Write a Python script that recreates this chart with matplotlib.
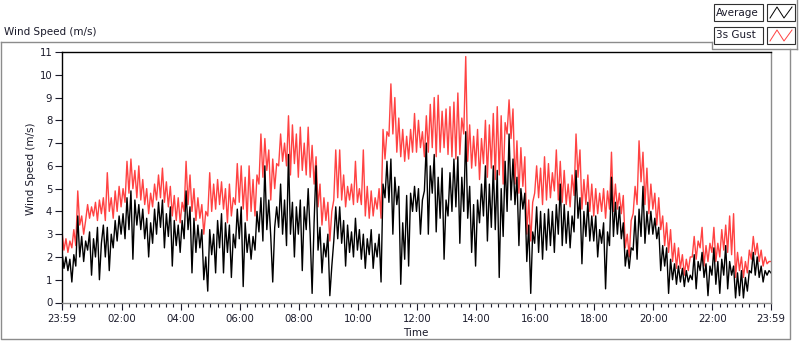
import numpy as np
import matplotlib.pyplot as plt
from matplotlib.lines import Line2D
from matplotlib.patches import Rectangle

# 3s gust and average wind speed (m/s), one reading every 4 minutes from 23:59
gust = [
    3.1, 2.3, 2.8, 2.2, 2.7, 2.4, 3.2, 2.5, 4.9, 3.4,
    3.8, 3.0, 3.6, 4.3, 3.7, 4.2, 3.8, 4.4, 3.6, 4.5,
    3.9, 4.6, 3.6, 5.7, 4.0, 4.6, 3.7, 4.9, 4.0, 5.1,
    4.2, 5.0, 4.4, 6.2, 4.8, 6.3, 5.0, 5.8, 4.6, 6.0,
    4.5, 5.4, 4.3, 5.0, 3.9, 4.8, 4.2, 5.2, 4.5, 5.6,
    4.6, 5.9, 4.4, 5.3, 4.2, 5.1, 3.8, 4.7, 3.6, 4.6,
    3.5, 4.4, 4.0, 6.2, 4.3, 5.6, 4.0, 5.0, 3.6, 4.6,
    3.7, 4.3, 3.0, 4.0, 3.8, 5.7, 4.0, 5.2, 4.1, 5.4,
    4.3, 5.3, 4.1, 5.0, 3.5, 5.2, 3.8, 4.6, 4.3, 6.1,
    4.4, 6.0, 4.1, 5.5, 3.6, 6.0, 4.0, 5.4, 3.8, 5.6,
    5.2, 7.4, 5.5, 7.2, 5.8, 6.7, 4.5, 6.3, 5.0, 6.1,
    6.0, 7.4, 6.2, 7.0, 6.0, 8.2, 5.6, 7.8, 6.1, 7.4,
    5.5, 7.7, 5.8, 7.0, 5.6, 7.7, 5.5, 6.9, 5.2, 6.4,
    4.2, 5.2, 3.4, 4.6, 3.6, 4.4, 2.7, 4.0, 4.5, 6.7,
    4.6, 6.7, 4.5, 5.6, 4.2, 5.1, 4.5, 5.2, 4.3, 6.2,
    4.4, 5.0, 4.3, 6.7, 3.8, 5.1, 3.7, 4.9, 3.8, 4.6,
    4.1, 5.0, 3.7, 7.6, 6.3, 7.5, 7.3, 9.6, 7.4, 9.0,
    6.6, 8.1, 6.4, 7.6, 6.2, 7.3, 6.3, 7.6, 6.6, 8.3,
    6.6, 8.0, 6.8, 7.5, 6.4, 8.2, 6.6, 8.7, 6.8, 9.0,
    6.4, 9.1, 6.6, 8.4, 6.8, 8.5, 6.5, 8.6, 6.4, 8.8,
    6.3, 9.2, 6.5, 8.1, 7.4, 10.8, 6.2, 7.8, 5.9, 7.3,
    6.0, 7.6, 5.4, 7.2, 6.1, 8.0, 5.5, 7.8, 5.9, 8.3,
    5.4, 8.6, 5.6, 8.2, 5.2, 7.9, 7.4, 8.9, 7.2, 8.5,
    5.2, 7.1, 4.8, 6.8, 5.1, 6.4, 3.0, 4.5, 2.7, 4.4,
    4.8, 6.0, 4.6, 5.9, 4.3, 6.4, 4.5, 6.1, 4.6, 5.7,
    4.9, 6.7, 4.5, 6.2, 4.4, 5.8, 4.3, 5.2, 4.2, 5.6,
    4.7, 7.4, 5.5, 6.7, 4.1, 5.4, 4.3, 5.6, 4.0, 5.2,
    3.8, 5.0, 3.9, 4.8, 4.0, 5.0, 3.7, 4.9, 4.1, 6.6,
    4.0, 5.2, 4.1, 4.8, 3.9, 4.7, 2.4, 3.0, 2.0, 3.6,
    3.9, 5.1, 4.3, 7.1, 5.3, 6.6, 4.3, 5.9, 3.9, 5.2,
    4.1, 4.8, 3.4, 4.6, 3.2, 3.8, 2.5, 3.5, 2.2, 3.2,
    1.8, 2.6, 1.5, 2.4, 1.5, 2.1, 1.2, 1.9, 1.4, 2.0,
    2.0, 2.9, 1.9, 2.7, 2.4, 3.3, 1.6, 2.5, 1.8, 2.6,
    2.2, 3.3, 1.8, 2.6, 2.0, 3.2, 2.3, 3.4, 2.2, 3.8,
    2.1, 3.9, 1.1, 2.2, 1.4, 2.0, 1.1, 1.8, 1.3, 2.3,
    1.9, 2.9, 2.1, 2.6, 1.8, 2.3, 1.6, 2.0, 1.7, 1.8,
    1.8,
]
average = [
    2.2, 1.5, 2.0, 1.4, 1.9, 0.9, 2.1, 1.6, 3.8, 2.0,
    2.9, 1.8, 2.7, 2.3, 3.1, 1.2, 2.8, 2.0, 3.3, 1.0,
    2.6, 3.4, 2.0, 3.3, 1.4, 3.0, 2.4, 3.6, 2.7, 3.8,
    3.0, 3.9, 2.8, 4.6, 3.2, 4.9, 1.9, 4.5, 3.4, 4.3,
    3.2, 4.1, 2.8, 3.7, 2.0, 3.5, 2.6, 4.1, 3.0, 4.4,
    3.3, 4.5, 2.4, 3.9, 2.9, 4.2, 1.6, 3.6, 2.5, 3.4,
    2.2, 3.6, 2.8, 4.9, 3.2, 4.2, 1.3, 3.7, 2.2, 3.4,
    2.4, 3.2, 1.0, 2.0, 0.5, 3.2, 2.1, 3.0, 1.3, 3.6,
    2.4, 3.9, 1.3, 3.5, 2.2, 3.4, 1.1, 3.0, 2.4, 4.1,
    2.8, 4.2, 0.7, 3.5, 2.2, 3.0, 1.9, 2.9, 2.3, 4.0,
    3.1, 4.6, 2.7, 6.0, 3.2, 4.5, 2.9, 0.9, 3.3, 4.2,
    3.3, 5.2, 3.0, 4.5, 2.5, 6.5, 3.0, 4.4, 2.0, 4.2,
    3.0, 4.5, 1.4, 4.2, 3.2, 5.0, 3.0, 0.4, 3.5, 6.0,
    2.3, 3.3, 1.3, 2.6, 2.0, 3.0, 0.3, 1.6, 2.7, 4.2,
    2.8, 4.2, 2.6, 3.6, 1.6, 3.4, 2.2, 3.1, 2.0, 3.7,
    2.3, 3.2, 1.9, 3.0, 1.5, 2.8, 2.1, 3.2, 1.5, 2.6,
    2.0, 3.0, 0.9, 5.2, 4.6, 6.2, 4.4, 6.3, 3.0, 5.5,
    4.3, 5.1, 0.8, 3.5, 1.9, 4.7, 1.6, 4.8, 4.0, 5.1,
    4.0, 5.0, 3.0, 4.5, 4.9, 7.0, 3.0, 6.0, 4.8, 6.5,
    3.1, 5.5, 3.7, 5.9, 1.9, 4.5, 3.8, 5.7, 4.0, 6.3,
    4.2, 6.4, 2.6, 5.5, 4.0, 7.5, 3.7, 5.1, 2.2, 4.3,
    1.6, 4.5, 3.5, 5.2, 3.8, 6.0, 2.7, 5.2, 3.3, 6.0,
    3.2, 5.8, 1.1, 5.0, 2.9, 6.2, 4.0, 7.4, 4.5, 6.3,
    4.3, 5.5, 2.5, 5.0, 4.1, 4.8, 1.8, 3.4, 0.4, 3.1,
    2.6, 4.2, 2.2, 4.0, 1.9, 3.9, 2.3, 4.1, 2.5, 4.0,
    2.2, 4.3, 3.0, 5.2, 2.5, 4.3, 2.6, 4.0, 2.4, 3.8,
    3.1, 5.8, 3.7, 4.6, 1.7, 4.0, 2.9, 4.4, 2.7, 3.8,
    2.7, 3.8, 2.0, 3.2, 2.6, 3.5, 0.6, 3.1, 2.5, 5.5,
    2.9, 4.4, 3.0, 4.2, 2.8, 3.5, 1.6, 2.3, 1.5, 2.4,
    2.3, 3.8, 1.9, 4.1, 2.9, 5.1, 2.6, 4.0, 3.0, 4.0,
    3.0, 3.7, 2.8, 3.3, 1.4, 2.5, 1.6, 2.4, 0.4, 1.9,
    1.0, 1.7, 0.8, 1.6, 0.9, 1.5, 0.7, 1.4, 0.9, 1.2,
    1.0, 2.1, 0.6, 1.8, 1.4, 2.2, 1.1, 1.7, 0.3, 1.6,
    1.2, 2.4, 0.8, 1.8, 0.4, 1.9, 1.2, 2.5, 0.6, 1.8,
    1.2, 1.6, 0.2, 1.3, 0.3, 1.4, 0.2, 1.1, 0.5, 1.4,
    1.3, 2.2, 1.2, 2.0, 1.1, 1.6, 0.9, 1.4, 1.2, 1.4,
    1.3,
]
sample_minutes = 4

tick_minutes = [0, 121, 241, 361, 481, 601, 721, 841, 961, 1081, 1201, 1321, 1440]
tick_labels = ['23:59', '02:00', '04:00', '06:00', '08:00', '10:00', '12:00',
               '14:00', '16:00', '18:00', '20:00', '22:00', '23:59']

W, H = 800, 342
TXT = '#1a1a2a'
GRAY = '#8c8c8c'

plt.rcParams['font.family'] = ['DejaVu Sans']


def fx(x):
    return x / W


def fy(y):
    return 1 - y / H


def fig_line(fig, xs, ys, color=GRAY, lw=1.0):
    fig.add_artist(Line2D([fx(v) for v in xs], [fy(v) for v in ys],
                          transform=fig.transFigure, color=color, lw=lw))


fig = plt.figure(figsize=(W / 100, H / 100), dpi=100)

ax = fig.add_axes([fx(62), fy(302.5), fx(771) - fx(62), fy(52) - fy(302.5)])
t = np.arange(len(gust)) * sample_minutes
ax.plot(t, gust, color='#ff4242', lw=1.0)
ax.plot(t, average, color='black', lw=1.0)

ax.set_xlim(0, 1440)
ax.set_ylim(0, 11)
ax.set_yticks(range(0, 12))
ax.set_xticks(tick_minutes)
ax.set_xticklabels(tick_labels)
ax.set_xticks(np.arange(1, 1440, 15), minor=True)
ax.tick_params(axis='both', which='major', labelsize=7.3, colors=TXT,
               length=5, width=0.8, pad=2)
ax.tick_params(axis='x', which='minor', length=3, width=0.8, color=TXT)
ax.tick_params(axis='x', which='major', pad=3)

ax.spines['left'].set_color('black')
ax.spines['top'].set_color('black')
ax.spines['right'].set_color(GRAY)
ax.spines['bottom'].set_color(GRAY)
for s in ax.spines.values():
    s.set_linewidth(1.0)

fig.text(fx(31), fy(169), 'Wind Speed (m/s)', rotation=90, ha='center',
         va='center', fontsize=7.5, color=TXT)
fig.text(fx(416), fy(333), 'Time', ha='center', va='center', fontsize=7.5,
         color=TXT)
fig.text(fx(4), fy(32), 'Wind Speed (m/s)', ha='left', va='center',
         fontsize=7.5, color=TXT)

# outer panel
fig_line(fig, [1, 1, 790, 790], [42, 339, 339, 49])
fig_line(fig, [1, 712], [42, 42])
fig_line(fig, [712, 712, 797], [42, 49, 49])
fig_line(fig, [797, 797], [0, 49])

# legend
items = [('Average', 'black', 4), ('3s Gust', '#ff4242', 27)]
for name, col, y0 in items:
    fig.add_artist(Rectangle((fx(714), fy(y0 + 17)), fx(763) - fx(714), 17 / H,
                             transform=fig.transFigure, fill=False,
                             edgecolor='#303030', lw=0.8))
    fig.text(fx(716), fy(y0 + 8.5), name, ha='left', va='center',
             fontsize=7.5, color=TXT)
    fig.add_artist(Rectangle((fx(767), fy(y0 + 17)), fx(795) - fx(767), 17 / H,
                             transform=fig.transFigure, fill=False,
                             edgecolor='#303030', lw=0.8))
    fig_line(fig, [770, 777, 784, 792], [y0 + 14, y0 + 3, y0 + 14, y0 + 3],
             color=col, lw=0.7)

fig.savefig('out.png', dpi=100)
